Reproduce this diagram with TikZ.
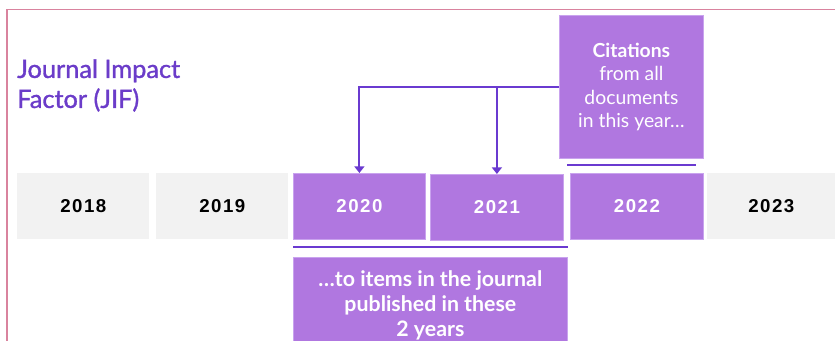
\documentclass[tikz,border=0pt]{standalone}
\usepackage{fontspec}
\setmainfont{Lato}
\newfontfamily\yearfont{Liberation Sans}[LetterSpace=8]
\newfontfamily\titlefont{Lato}[FakeBold=1.2]
\usetikzlibrary{arrows.meta}
\definecolor{boxpurple}{HTML}{B077E0}
\definecolor{boxedge}{HTML}{C9A3EE}
\definecolor{linepurple}{HTML}{6A3AD0}
\definecolor{titlepurple}{HTML}{6B3CC9}
\definecolor{framepink}{HTML}{D9839E}
\definecolor{boxgray}{HTML}{F2F2F2}
\begin{document}
\begin{tikzpicture}[x=0.75pt,y=-0.75pt,
  yearbox/.style={anchor=north west, minimum width=99pt, minimum height=49.5pt, inner sep=0pt,
    font=\yearfont\bfseries\fontsize{14}{16}\selectfont},
  grayyear/.style={yearbox, fill=boxgray, text=black},
  purpleyear/.style={yearbox, fill=boxpurple, draw=boxedge, line width=0.6pt, text=white},
  infobox/.style={fill=boxpurple, draw=boxedge, line width=0.6pt, text=white, inner sep=0pt, align=center},
  conn/.style={draw=linepurple, line width=1.5pt, -{Triangle[width=7.5pt,length=5pt]}},
  uline/.style={draw=linepurple, line width=1.1pt},
]
\useasboundingbox (0,0) rectangle (835,341);
% frame
\draw[framepink, line width=1.2pt] (6.7,345) -- (6.7,9.7) -- (840,9.7);
% title
\node[anchor=north west, inner sep=0pt, align=left, text=titlepurple,
  font=\titlefont\fontsize{19}{22.5}\selectfont] (title) at (17,59) {Journal Impact\\Factor (JIF)};
% years
\node[grayyear] (y2018) at (17,173) {2018};
\node[grayyear] (y2019) at (156,173) {2019};
\node[purpleyear] (y2020) at (293,173) {2020};
\node[purpleyear, minimum width=99.75pt] (y2021) at (430,174) {2021};
\node[purpleyear, minimum width=99.75pt] (y2022) at (570,173) {2022};
\node[grayyear, minimum width=96pt] (y2023) at (707,173) {2023};
% citations box
\node[infobox, anchor=north west, minimum width=108pt, minimum height=107.25pt,
  font=\fontsize{14.5}{17.5}\selectfont] (cite) at (559,15)
  {\textbf{Citations}\\from all\\documents\\in this year…};
% underline of citations box
\draw[uline] ([shift={(8,6)}]cite.south west) -- ([shift={(-8,6)}]cite.south east);
% connectors
\draw[conn] (cite.west) -| (y2020.north);
\coordinate (branch) at (cite.west -| y2021.north);
\draw[conn] (branch) -- (y2021.north);
% underline of 2020-2021
\draw[uline] ([shift={(0,7)}]y2020.south west) -- ([shift={(4,6)}]y2021.south east);
% bottom box
\node[infobox, anchor=north west, minimum width=205.5pt, minimum height=72pt,
  font=\bfseries\fontsize{16}{18.75}\selectfont] (items) at (293,257)
  {…to items in the journal\\published in these\\2 years};
\end{tikzpicture}
\end{document}
